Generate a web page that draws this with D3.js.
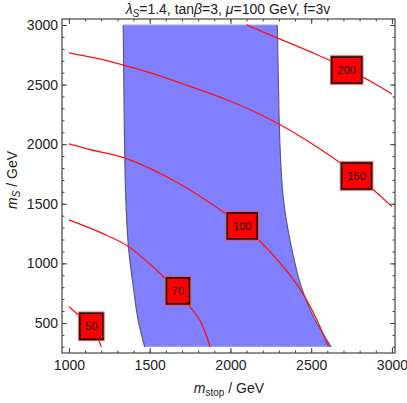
<!DOCTYPE html>
<html>
<head>
<meta charset="utf-8">
<script src="https://cdnjs.cloudflare.com/ajax/libs/d3/7.8.5/d3.min.js"></script>
<style>
  body { margin: 0; background: #fff; }
  text { font-family: "Liberation Sans", Arial, sans-serif; }
  .axis path { display: none; }
  .axis line { stroke: #444; }
  .axis text { font-size: 14px; fill: #222; }
</style>
</head>
<body>
<div id="gr"></div>
<script>
// tick values
var xTicks = [1000, 1500, 2000, 2500, 3000];
var yTicks = [500, 1000, 1500, 2000, 2500, 3000];

// contour lines: [m_stop, m_S]
var contour50 = [[1000, 637], [1070, 553], [1139, 472], [1180, 370], [1200, 300]];
var contour70 = [[1000, 1364], [1200, 1255], [1370, 1140], [1596, 875], [1675, 769], [1741, 651], [1812, 520], [1875, 300]];
var contour100 = [[1000, 2002], [1142, 1951], [1349, 1882], [1679, 1672], [1968, 1420], [2073, 1314], [2175, 1196], [2405, 836], [2505, 609], [2608, 300]];
var contour150 = [[1000, 2765], [1250, 2695], [1500, 2600], [1750, 2485], [2000, 2360], [2250, 2205], [2500, 2008], [2750, 1772], [3000, 1476]];
var contour200 = [[2100, 3000], [2300, 2885], [2500, 2772], [2700, 2649], [2900, 2503], [3000, 2421]];

// label names and where they sit on the lines
var labelNames = ["50", "70", "100", "150", "200"];
var labelPos = [[1139, 472], [1675, 769], [2073, 1314], [2781, 1733], [2720, 2622]];

// shaded region: m_S values with left / right m_stop edges
var regionMs = [300, 500, 800, 1100, 1550, 1950, 2500, 3000];
var regionLeft = [1469, 1432, 1399, 1371, 1352, 1345, 1340, 1336];
var regionRight = [2624, 2534, 2439, 2383, 2327, 2308, 2297, 2290];

var W = 407, H = 403;
var pL = 62, pR = 395, pT = 19, pB = 353;

var svg = d3.select("#gr").append("svg").
attr("width", W).
attr("height", H);

var x = d3.scaleLinear().domain([957, 3019]).range([pL, pR]);
var y = d3.scaleLinear().domain([248, 3050]).range([pB, pT]);

var region = regionMs.map(function (m, i) {
  return { ms: m, l: regionLeft[i], r: regionRight[i] };
});

var area = d3.area().
curve(d3.curveMonotoneY).
y(function (d) {return y(d.ms);}).
x0(function (d) {return x(d.l);}).
x1(function (d) {return x(d.r);});

svg.append("path").
datum(region).
attr("d", area).
attr("fill", "#8080ff");

var edgeL = d3.line().curve(d3.curveMonotoneY).
x(function (d) {return x(d.l);}).
y(function (d) {return y(d.ms);});
var edgeR = d3.line().curve(d3.curveMonotoneY).
x(function (d) {return x(d.r);}).
y(function (d) {return y(d.ms);});

svg.append("path").datum(region).attr("d", edgeL).
attr("fill", "none").attr("stroke", "#5a5a88").attr("stroke-width", 1.2);
svg.append("path").datum(region).attr("d", edgeR).
attr("fill", "none").attr("stroke", "#5a5a88").attr("stroke-width", 1.2);

// top edge of the region, lighter
svg.append("line").
attr("x1", x(regionLeft[7])).attr("x2", x(regionRight[7])).
attr("y1", y(regionMs[7])).attr("y2", y(regionMs[7])).
attr("stroke", "#a8a8ff").attr("stroke-width", 1);

// contour lines
var line = d3.line().curve(d3.curveCatmullRom.alpha(0.5)).
x(function (d) {return x(d[0]);}).
y(function (d) {return y(d[1]);});

[contour50, contour70, contour100, contour150, contour200].forEach(function (c) {
  svg.append("path").
  datum(c).
  attr("d", line).
  attr("fill", "none").
  attr("stroke", "#ff1010").
  attr("stroke-width", 1.3);
});

// labels on lines
labelNames.forEach(function (name, i) {
  var g = svg.append("g").
  attr("transform", "translate(" + x(labelPos[i][0]) + "," + y(labelPos[i][1]) + ")");
  var bw = name.length == 3 ? 30 : 23, bh = 26;
  g.append("rect").
  attr("x", -bw / 2).attr("y", -bh / 2).
  attr("width", bw).attr("height", bh).
  attr("fill", "#ff0000").
  attr("stroke", "#ff5050").
  attr("stroke-width", 3.5);
  g.append("rect").
  attr("x", -bw / 2).attr("y", -bh / 2).
  attr("width", bw).attr("height", bh).
  attr("fill", "#ff0000").
  attr("stroke", "#111").
  attr("stroke-width", 1.6);
  g.append("text").
  attr("text-anchor", "middle").
  attr("dy", "0.36em").
  style("font-size", "11px").
  attr("fill", "#111").
  text(name);
});

// axes: major and minor ticks, all pointing inward
var xMinor = d3.range(1000, 3001, 100);
var yMinor = d3.range(300, 3001, 100);

svg.append("g").attr("class", "axis").
attr("transform", "translate(0," + pB + ")").
call(d3.axisBottom(x).tickValues(xMinor).tickSize(-2.5).tickFormat(""));
svg.append("g").attr("class", "axis").
attr("transform", "translate(0," + pB + ")").
call(d3.axisBottom(x).tickValues(xTicks).tickSize(-5).tickPadding(7).tickFormat(d3.format("d")));

svg.append("g").attr("class", "axis").
attr("transform", "translate(0," + pT + ")").
call(d3.axisTop(x).tickValues(xMinor).tickSize(-2.5).tickFormat(""));
svg.append("g").attr("class", "axis").
attr("transform", "translate(0," + pT + ")").
call(d3.axisTop(x).tickValues(xTicks).tickSize(-5).tickFormat(""));

svg.append("g").attr("class", "axis").
attr("transform", "translate(" + pL + ",0)").
call(d3.axisLeft(y).tickValues(yMinor).tickSize(-2.5).tickFormat(""));
svg.append("g").attr("class", "axis").
attr("transform", "translate(" + pL + ",0)").
call(d3.axisLeft(y).tickValues(yTicks).tickSize(-5).tickPadding(4).tickFormat(d3.format("d")));

svg.append("g").attr("class", "axis").
attr("transform", "translate(" + pR + ",0)").
call(d3.axisRight(y).tickValues(yMinor).tickSize(-2.5).tickFormat(""));
svg.append("g").attr("class", "axis").
attr("transform", "translate(" + pR + ",0)").
call(d3.axisRight(y).tickValues(yTicks).tickSize(-5).tickFormat(""));

// frame
svg.append("rect").
attr("x", pL).attr("y", pT).
attr("width", pR - pL).attr("height", pB - pT).
attr("fill", "none").
attr("stroke", "#444").
attr("stroke-width", 1.2);

// title
var title = svg.append("text").
attr("x", 228).attr("y", 14).
attr("text-anchor", "middle").
style("font-size", "14px").
attr("fill", "#222");
title.append("tspan").style("font-style", "italic").text("λ");
title.append("tspan").style("font-style", "italic").style("font-size", "10px").attr("dy", 3).text("S");
title.append("tspan").attr("dy", -3).text("=1.4, tan");
title.append("tspan").style("font-style", "italic").text("β");
title.append("tspan").text("=3, ");
title.append("tspan").style("font-style", "italic").text("μ");
title.append("tspan").text("=100 GeV, f=3v");

// x label
var xl = svg.append("text").
attr("x", 229).attr("y", 393).
attr("text-anchor", "middle").
style("font-size", "14px").
attr("fill", "#222");
xl.append("tspan").style("font-style", "italic").text("m");
xl.append("tspan").style("font-size", "10px").attr("dy", 3).text("stop");
xl.append("tspan").attr("dy", -3).text(" / GeV");

// y label
var yl = svg.append("text").
attr("transform", "translate(17,180) rotate(-90)").
attr("text-anchor", "middle").
style("font-size", "14px").
attr("fill", "#222");
yl.append("tspan").style("font-style", "italic").text("m");
yl.append("tspan").style("font-style", "italic").style("font-size", "10px").attr("dy", 3).text("S");
yl.append("tspan").attr("dy", -3).text(" / GeV");
</script>
</body>
</html>
